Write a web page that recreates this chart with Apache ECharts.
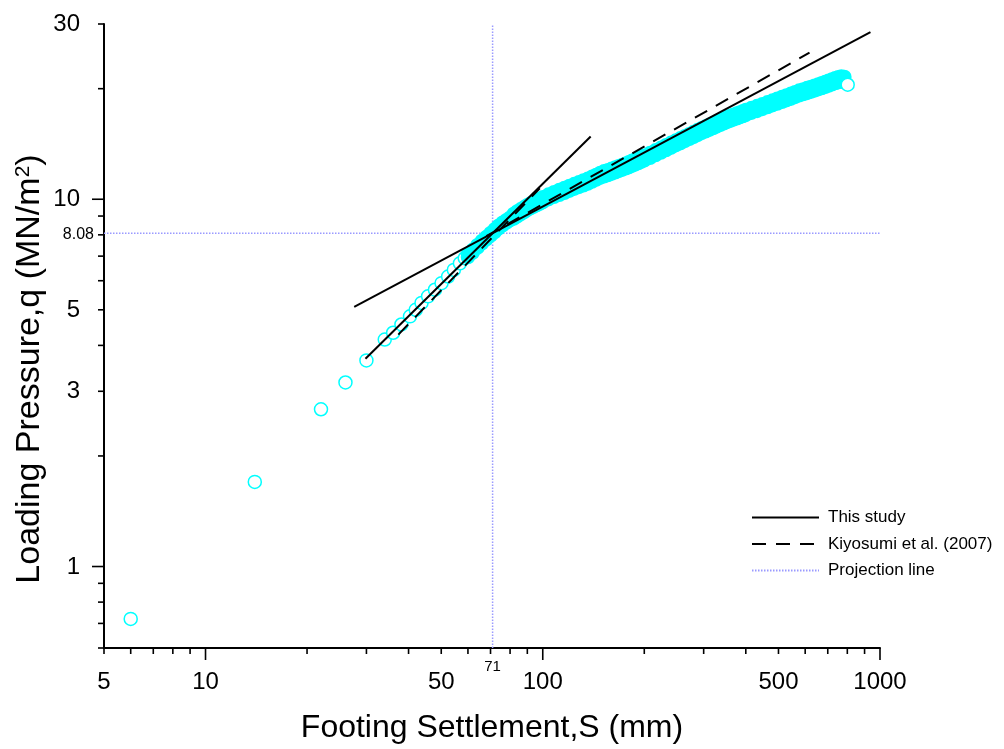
<!DOCTYPE html>
<html>
<head>
<meta charset="utf-8">
<script src="https://cdn.jsdelivr.net/npm/echarts@6/dist/echarts.min.js"></script>
<style>html,body{margin:0;padding:0;background:#fff}#chart{width:1004px;height:749px}</style>
</head>
<body>
<div id="chart"></div>
<script>
const FONT = "'Liberation Sans', Arial, Helvetica, sans-serif";
const CYAN = '#00ffff';

// Measured load-settlement data: S (mm), q (MN/m2)
// resolved (separate) circles
const chainS = [6, 14, 22, 26, 30, 34, 36, 38.1, 40.4, 42, 43.7, 45.7, 47.9, 50.1, 52.4, 54.5, 56.8, 58.7];
const chainQ = [0.72, 1.70, 2.68, 3.17, 3.64, 4.15, 4.33, 4.56, 4.80, 5.00, 5.22, 5.44, 5.67, 5.91, 6.16, 6.42, 6.69, 6.91];
// dense part where the circles merge into a band (upper and lower edge of the scatter)
const bandS = [60, 62, 64, 66, 68, 70, 72, 74, 76, 78, 80, 82, 84, 86, 88, 90, 92, 94, 96, 98, 100,
  104, 108, 112, 116, 120, 124, 128, 132, 136, 140, 144, 148, 152, 156, 160, 164, 168, 172, 176, 180, 184, 188, 192, 196, 200,
  208, 216, 224, 232, 240, 248, 256, 264, 272, 280, 288, 296, 304, 312, 320, 328, 336, 344, 352, 360, 368, 376, 384, 392, 400,
  416, 432, 448, 464, 480, 496, 512, 528, 544, 560, 576, 592, 608, 624, 640, 656, 672, 688, 704, 720, 736, 752, 768, 784];
const bandQUpper = [7.08, 7.28, 7.50, 7.70, 7.89, 8.08, 8.28, 8.47, 8.63, 8.77, 8.91, 9.12, 9.26, 9.39, 9.51, 9.63, 9.74, 9.85, 9.94, 10.03, 10.12,
  10.30, 10.45, 10.60, 10.73, 10.87, 11.00, 11.12, 11.25, 11.37, 11.51, 11.65, 11.79, 11.91, 12.00, 12.10, 12.20, 12.30, 12.40, 12.50, 12.61, 12.72, 12.82, 12.93, 13.04, 13.14,
  13.37, 13.59, 13.80, 14.03, 14.24, 14.45, 14.65, 14.85, 15.04, 15.24, 15.43, 15.61, 15.77, 15.95, 16.11, 16.27, 16.42, 16.59, 16.74, 16.86, 16.99, 17.11, 17.23, 17.36, 17.49,
  17.72, 17.94, 18.15, 18.36, 18.57, 18.78, 18.98, 19.17, 19.37, 19.57, 19.76, 19.91, 20.07, 20.22, 20.38, 20.53, 20.70, 20.86, 21.02, 21.18, 21.35, 21.47, 21.57, 21.52];
const bandQLower = [6.96, 7.16, 7.38, 7.58, 7.77, 7.96, 8.14, 8.33, 8.49, 8.63, 8.77, 8.86, 8.98, 9.11, 9.23, 9.35, 9.46, 9.55, 9.64, 9.73, 9.82,
  10.00, 10.15, 10.28, 10.41, 10.55, 10.68, 10.80, 10.91, 11.03, 11.17, 11.31, 11.45, 11.55, 11.64, 11.74, 11.84, 11.94, 12.04, 12.14, 12.23, 12.34, 12.44, 12.55, 12.66, 12.76,
  12.97, 13.19, 13.40, 13.61, 13.82, 14.03, 14.21, 14.41, 14.60, 14.78, 14.97, 15.15, 15.31, 15.47, 15.63, 15.79, 15.94, 16.09, 16.24, 16.36, 16.49, 16.61, 16.73, 16.84, 16.97,
  17.20, 17.40, 17.61, 17.82, 18.03, 18.22, 18.42, 18.61, 18.79, 18.99, 19.18, 19.33, 19.47, 19.62, 19.78, 19.93, 20.08, 20.24, 20.40, 20.56, 20.71, 20.83, 20.93, 20.88];
// final reading
const lastS = [802];
const lastQ = [20.5];

// Fitted lines (endpoints)
const thisStudyShallowS = [27.6, 937];
const thisStudyShallowQ = [5.09, 28.5];
const thisStudySteepS = [29.8, 138.7];
const thisStudySteepQ = [3.68, 14.82];
const kiyosumiSteepS = [37.3, 98];
const kiyosumiSteepQ = [4.28, 10.71];
const kiyosumiShallowS = [68, 618];
const kiyosumiShallowQ = [7.93, 25.07];

// Projection point
const projectionS = 71;
const projectionQ = 8.08;

// Axes
const xRange = [5, 1000];
const yRange = [0.6, 30];
const xMajorTicks = [10, 100, 1000];
const xMinorTicks = [5, 6, 7, 8, 9, 20, 30, 40, 50, 60, 70, 80, 90, 200, 300, 400, 500, 600, 700, 800, 900];
const xTickLabels = [5, 10, 50, 100, 500, 1000];
const yMajorTicks = [1, 10];
const yMinorTicks = [0.6, 0.7, 0.8, 0.9, 2, 3, 4, 5, 6, 7, 8, 9, 20, 30];
const yTickLabels = [1, 3, 5, 10, 30];

const pairs = (xs, ys) => xs.map((x, i) => [x, ys[i]]);

function xTicks(values, len) {
  return {
    type: 'custom', silent: true, clip: false, z: 10,
    data: values.map(v => [v, yRange[0]]),
    renderItem(params, api) {
      const p = api.coord([api.value(0), yRange[0]]);
      return { type: 'line', shape: { x1: p[0], y1: p[1], x2: p[0], y2: p[1] + len },
        style: { stroke: '#000', lineWidth: 1.6 } };
    }
  };
}
function yTicks(values, len) {
  return {
    type: 'custom', silent: true, clip: false, z: 10,
    data: values.map(v => [xRange[0], v]),
    renderItem(params, api) {
      const p = api.coord([xRange[0], api.value(1)]);
      return { type: 'line', shape: { x1: p[0] - len, y1: p[1], x2: p[0], y2: p[1] },
        style: { stroke: '#000', lineWidth: 1.6 } };
    }
  };
}
function xLabels(values, dy, size) {
  return {
    type: 'custom', silent: true, clip: false, z: 10,
    data: values.map(v => [v, yRange[0]]),
    renderItem(params, api) {
      const v = api.value(0);
      const p = api.coord([v, yRange[0]]);
      return { type: 'text', x: p[0], y: p[1] + dy,
        style: { text: String(v), fontSize: size, fontFamily: FONT, fill: '#000', align: 'center', verticalAlign: 'middle' } };
    }
  };
}
function yLabels(values, dx, dy, size) {
  return {
    type: 'custom', silent: true, clip: false, z: 10,
    data: values.map(v => [xRange[0], v]),
    renderItem(params, api) {
      const v = api.value(1);
      const p = api.coord([xRange[0], v]);
      return { type: 'text', x: p[0] - dx, y: p[1] + dy,
        style: { text: String(v), fontSize: size, fontFamily: FONT, fill: '#000', align: 'right', verticalAlign: 'middle' } };
    }
  };
}

// scatter items in reading order; band circles overlap so densely that they read as solid cyan
const scatterData = [];
chainS.forEach((s, i) => scatterData.push({ value: [s, chainQ[i]] }));
bandS.forEach((s, i) => {
  scatterData.push({ value: [s, bandQUpper[i]], itemStyle: { color: CYAN } });
  scatterData.push({ value: [s, bandQLower[i]], itemStyle: { color: CYAN } });
});
lastS.forEach((s, i) => scatterData.push({ value: [s, lastQ[i]] }));

const blackLine = (name, data, type) => ({
  name, type: 'line', data, symbol: 'none', silent: true, z: 4,
  lineStyle: { color: '#000', width: 2, type }, itemStyle: { color: '#000' }
});
const projLine = (data) => ({
  name: 'Projection line', type: 'line', data, symbol: 'none', silent: true, z: 1,
  lineStyle: { color: '#9a9aff', width: 1.5, type: [1.5, 1.5] }, itemStyle: { color: '#9a9aff' }
});

const chart = echarts.init(document.getElementById('chart'), null, { renderer: 'canvas' });
chart.setOption({
  animation: false,
  backgroundColor: '#fff',
  textStyle: { fontFamily: FONT },
  grid: { left: 104, right: 124, top: 24, bottom: 99 },
  legend: {
    orient: 'vertical', left: 746, top: 504, itemWidth: 67, itemHeight: 17, itemGap: 9.5,
    selectedMode: false,
    data: ['This study', 'Kiyosumi et al. (2007)', 'Projection line'],
    itemStyle: { opacity: 0 },
    textStyle: { fontSize: 17, color: '#000', fontFamily: FONT, padding: [0, 0, 0, 4] }
  },
  xAxis: {
    type: 'log', logBase: 10, min: xRange[0], max: xRange[1],
    name: 'Footing Settlement,S (mm)', nameLocation: 'middle', nameGap: 64,
    nameTextStyle: { fontSize: 32, color: '#000', fontFamily: FONT },
    axisLine: { show: true, onZero: false, lineStyle: { color: '#000', width: 2 } },
    axisTick: { show: false }, axisLabel: { show: false }, splitLine: { show: false }, minorTick: { show: false }
  },
  yAxis: {
    type: 'log', logBase: 10, min: yRange[0], max: yRange[1],
    name: 'Loading Pressure,q (MN/m{sup|2})', nameLocation: 'middle', nameGap: 57,
    nameTextStyle: {
      fontSize: 34, color: '#000', fontFamily: FONT, padding: [0, 66, 0, 0],
      rich: { sup: { fontSize: 21, color: '#000', fontFamily: FONT, verticalAlign: 'top' } }
    },
    axisLine: { show: true, onZero: false, lineStyle: { color: '#000', width: 2 } },
    axisTick: { show: false }, axisLabel: { show: false }, splitLine: { show: false }, minorTick: { show: false }
  },
  series: [
    projLine([[projectionS, yRange[0]], [projectionS, yRange[1]]]),
    projLine([[xRange[0], projectionQ], [xRange[1], projectionQ]]),
    {
      name: 'Measured', type: 'scatter', symbol: 'circle', symbolSize: 13, z: 3, silent: true,
      data: scatterData,
      itemStyle: { color: '#fff', borderColor: CYAN, borderWidth: 1.5, opacity: 1 }
    },
    blackLine('This study', pairs(thisStudyShallowS, thisStudyShallowQ), 'solid'),
    blackLine('This study', pairs(thisStudySteepS, thisStudySteepQ), 'solid'),
    blackLine('Kiyosumi et al. (2007)', pairs(kiyosumiSteepS, kiyosumiSteepQ), [14, 10]),
    blackLine('Kiyosumi et al. (2007)', pairs(kiyosumiShallowS, kiyosumiShallowQ), [14, 10]),
    xTicks(xMajorTicks, 12),
    xTicks(xMinorTicks, 6),
    yTicks(yMajorTicks, 12),
    yTicks(yMinorTicks, 6),
    xLabels(xTickLabels, 34, 24),
    xLabels([projectionS], 19, 15),
    yLabels(yTickLabels, 24, 0.5, 24),
    yLabels([projectionQ], 10, 1, 16)
  ]
});
</script>
</body>
</html>
